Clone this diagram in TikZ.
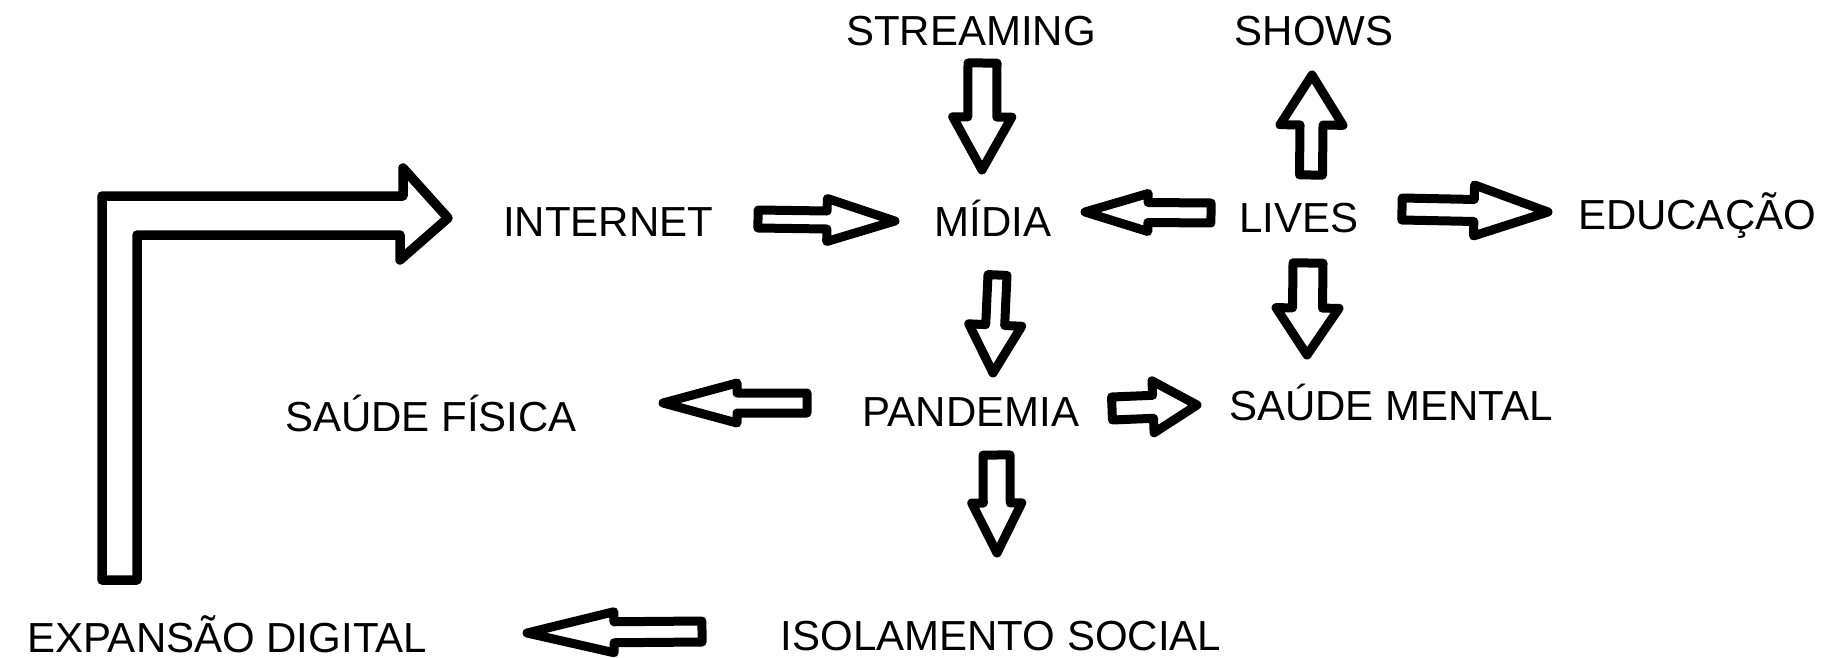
\documentclass[tikz,border=0pt]{standalone}
\usepackage{fontspec}
\setmainfont{Liberation Sans}
\usetikzlibrary{calc}
\tikzset{
  lbl/.style={font=\fontsize{42}{50}\selectfont, inner sep=0pt, anchor=base, text=black},
  barrow/.style={draw=black, line width=9pt, line join=round, fill=white},
}
% #1 tail, #2 tip, #3 shaft half width, #4 head half width, #5 head length
\newcommand{\blockarrow}[5]{%
  \coordinate (ba-h) at ($(#2)!#5!(#1)$);
  \draw[barrow] ($(#1)!#3!90:(#2)$) -- ($(ba-h)!#3!-90:(#1)$) -- ($(ba-h)!#4!-90:(#1)$)
    -- (#2) -- ($(ba-h)!#4!90:(#1)$) -- ($(ba-h)!#3!90:(#1)$) -- ($(#1)!#3!-90:(#2)$) -- cycle;}
\begin{document}
\begin{tikzpicture}[x=1pt, y=-1pt]
\useasboundingbox[fill=white] (0,0) rectangle (1827,658);
% labels
\node[lbl] (stream) at (971,46) {STREAMING};
\node[lbl] (shows) at (1314,46) {SHOWS};
\node[lbl] (internet) at (608,236) {INTERNET};
\node[lbl] (midia) at (993,236) {MÍDIA};
\node[lbl] (lives) at (1299,232) {LIVES};
\node[lbl] (educ) at (1697,229) {EDUCAÇÃO};
\node[lbl] (sfis) at (431,431) {SAÚDE FÍSICA};
\node[lbl] (pand) at (971,426) {PANDEMIA};
\node[lbl] (smen) at (1391,420) {SAÚDE MENTAL};
\node[lbl] (isol) at (1001,650) {ISOLAMENTO SOCIAL};
\node[lbl] (expd) at (227,652) {EXPANSÃO DIGITAL};
% connector end points
\coordinate (a1s) at (982.5,63);  \coordinate (a1e) at (982,170);
\coordinate (a2s) at (1311,175);  \coordinate (a2e) at (1312,75);
\coordinate (a3s) at (758,219);   \coordinate (a3e) at (895,221);
\coordinate (a4s) at (1211,213);  \coordinate (a4e) at (1085,212);
\coordinate (a5s) at (1402,209);  \coordinate (a5e) at (1548,212);
\coordinate (a6s) at (997.5,275); \coordinate (a6e) at (993,373);
\coordinate (a7s) at (1308,263);  \coordinate (a7e) at (1307,355);
\coordinate (a8s) at (807,403);   \coordinate (a8e) at (663,403);
\coordinate (a9s) at (1112,408.5);\coordinate (a9e) at (1197,405);
\coordinate (a10s) at (996.5,455);\coordinate (a10e) at (997,553);
\coordinate (a11s) at (702,631.5);\coordinate (a11e) at (527,633);
% block arrows
\blockarrow{a1s}{a1e}{14.5pt}{29.5pt}{53pt}
\blockarrow{a2s}{a2e}{11.5pt}{31.5pt}{50pt}
\blockarrow{a3s}{a3e}{9pt}{21.5pt}{68pt}
\blockarrow{a4s}{a4e}{10pt}{19pt}{63pt}
\blockarrow{a5s}{a5e}{11pt}{25.5pt}{74pt}
\blockarrow{a6s}{a6e}{9.5pt}{26.5pt}{48pt}
\blockarrow{a7s}{a7e}{15pt}{31.5pt}{47pt}
\blockarrow{a8s}{a8e}{10pt}{20pt}{74pt}
\blockarrow{a9s}{a9e}{11.5pt}{26pt}{44pt}
\blockarrow{a10s}{a10e}{13.5pt}{25pt}{50pt}
\blockarrow{a11s}{a11e}{10.5pt}{20.5pt}{87pt}
% bent arrow from EXPANSAO DIGITAL to INTERNET
\coordinate (Ls) at (119.5,580); \coordinate (Le) at (448,218);
\draw[barrow, line width=9.5pt] (102,580) -- (102,196) -- (403,196) -- (403,168) -- (Le)
  -- (400,260) -- (400,235) -- (137,235) -- (137,580) -- cycle;
\end{tikzpicture}
\end{document}
